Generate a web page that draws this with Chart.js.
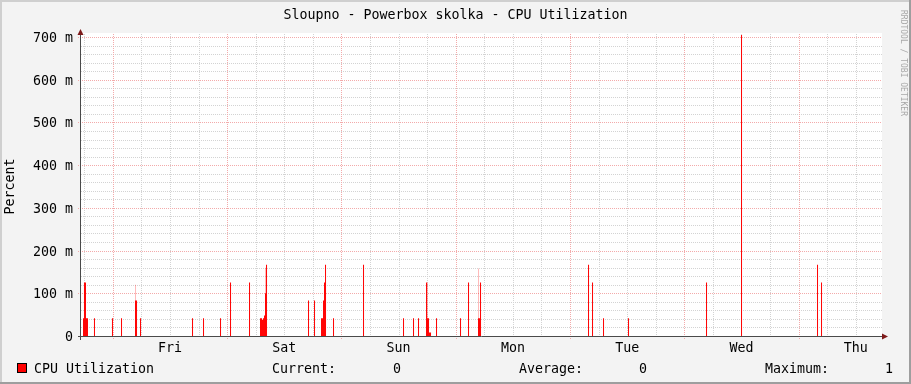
<!DOCTYPE html>
<html>
<head>
<meta charset="utf-8">
<script src="https://cdn.jsdelivr.net/npm/chart.js@4/dist/chart.umd.min.js"></script>
<style>
html,body{margin:0;padding:0;background:#f3f3f3;}
canvas{display:block;}
</style>
</head>
<body>
<canvas id="c" width="911" height="384"></canvas>
<script>
// ---- data ----
const chartTitle = 'Sloupno - Powerbox skolka - CPU Utilization';
const yAxisTitle = 'Percent';
const watermark = 'RRDTOOL / TOBI OETIKER';
const seriesName = 'CPU Utilization';
// day names, labelled at noon of each day (hours since Fri 00:00)
const dayLabels = ['Fri', 'Sat', 'Sun', 'Mon', 'Tue', 'Wed', 'Thu'];
const dayNoonHours = [12, 36, 60, 84, 108, 132, 156];
// visible time window, hours relative to Fri 00:00
const timeStart = -6.7;
const timeEnd = 161.3;
const xMinorStepHours = 6;
const xMajorStepHours = 24;
// y range (milli-units)
const yMax = 700;
const yMinorStep = 20;
const yMajorStep = 100;
// samples: time (hours since Fri 00:00) and CPU utilization (milli)
const sampleHours = [
  -6.17, -5.97, -5.76, -5.55, -5.34, -3.87, -0.09, 1.81, 4.75, 4.96, 5.80,
  16.72, 19.03, 22.60, 24.70, 28.69,
  31.00, 31.21, 31.42, 31.63, 31.84, 32.05, 32.26,
  41.08, 42.34, 43.81, 44.02, 44.23, 44.44, 44.65, 46.33, 52.63,
  61.03, 63.13, 64.18, 65.86, 66.07, 66.28, 66.49, 66.70, 67.96,
  73.00, 74.68, 76.78, 76.99, 77.20,
  99.88, 100.72, 103.03, 108.28, 124.66, 132.01, 147.97, 148.81
];
const cpuMilli = [
  41.7, 125, 125, 41.7, 41.7, 41.7, 41.7, 41.7, 83.3, 83.3, 41.7,
  41.7, 41.7, 41.7, 125, 125,
  41.7, 41.7, 38, 41.7, 48, 100, 166.7,
  83.3, 83.3, 41.7, 41.7, 83.3, 125, 166.7, 41.7, 166.7,
  41.7, 41.7, 41.7, 125, 41.7, 41.7, 8, 8, 41.7,
  41.7, 125, 41.7, 41.7, 125,
  166.7, 125, 41.7, 41.7, 125, 1000, 166.7, 125
];
// faint anti-aliased tails visible above a few spikes
const fadeHours = [4.75, 32.05, 66.07, 76.78];
const fadeMilli = [120, 160, 125, 158];
const legendStats = [
  ['Current:', '0'],
  ['Average:', '0'],
  ['Maximum:', '1']
];

// ---- styling ----
const FONT = "'DejaVu Sans Mono', monospace";
const FS = 13.3;
const MAJOR_GRID = '#f3aaaa';
const MINOR_GRID = '#d3d3d3';
const AXIS_COLOR = '#4a4a4a';
const ARROW_COLOR = '#7e1a1a';

Chart.defaults.font.family = FONT;
Chart.defaults.font.size = FS;
Chart.defaults.color = '#000';

const frame = {
  id: 'frame',
  beforeDraw(chart) {
    const {ctx, chartArea: a} = chart;
    const W = chart.width, H = chart.height;
    ctx.save();
    ctx.fillStyle = '#f3f3f3';
    ctx.fillRect(0, 0, W, H);
    ctx.fillStyle = '#cfcfcf';
    ctx.fillRect(0, 0, W, 2);
    ctx.fillRect(0, 0, 2, H);
    ctx.fillStyle = '#9e9e9e';
    ctx.fillRect(0, H - 2, W, 2);
    ctx.fillRect(W - 2, 0, 2, H);
    ctx.fillStyle = '#ffffff';
    ctx.fillRect(a.left, a.top - 4, a.right - a.left + 1, a.bottom - a.top + 4);
    ctx.restore();
  },
  beforeDatasetsDraw(chart) {
    // dotted rrdtool-style grid, positioned through the chart's scales
    const {ctx, chartArea: a, scales: {x: xs, y: ys}} = chart;
    ctx.save();
    ctx.lineWidth = 1;
    ctx.setLineDash([1, 1]);
    [false, true].forEach(major => {
      ctx.strokeStyle = major ? MAJOR_GRID : MINOR_GRID;
      ctx.beginPath();
      for (let v = yMinorStep; v <= yMax; v += yMinorStep) {
        const isMaj = v % yMajorStep === 0;
        if (isMaj !== major) continue;
        const py = Math.round(ys.getPixelForValue(v)) + 0.5;
        ctx.moveTo(major ? a.left - 3 : a.left, py);
        ctx.lineTo(a.right + 1, py);
      }
      const first = Math.ceil(timeStart / xMinorStepHours) * xMinorStepHours;
      for (let h = first; h <= timeEnd; h += xMinorStepHours) {
        const isMaj = ((h % xMajorStepHours) + xMajorStepHours) % xMajorStepHours === 0;
        if (isMaj !== major) continue;
        const px = Math.round(xs.getPixelForValue(h)) + 0.5;
        ctx.moveTo(px, a.top - 3);
        ctx.lineTo(px, major ? a.bottom + 4 : a.bottom);
      }
      ctx.stroke();
    });
    ctx.restore();
  },
  afterDraw(chart) {
    const {ctx, chartArea: a} = chart;
    const W = chart.width;
    ctx.save();
    // axes
    ctx.strokeStyle = AXIS_COLOR;
    ctx.lineWidth = 1;
    ctx.beginPath();
    ctx.moveTo(a.left - 3, a.bottom + 0.5);
    ctx.lineTo(a.right + 4, a.bottom + 0.5);
    ctx.moveTo(a.left - 0.5, a.bottom + 4);
    ctx.lineTo(a.left - 0.5, a.top - 3);
    ctx.stroke();
    // arrows
    ctx.fillStyle = ARROW_COLOR;
    ctx.beginPath();
    ctx.moveTo(a.right + 7, a.bottom + 0.5);
    ctx.lineTo(a.right + 1, a.bottom - 2.5);
    ctx.lineTo(a.right + 1, a.bottom + 3.5);
    ctx.closePath();
    ctx.fill();
    ctx.beginPath();
    ctx.moveTo(a.left - 0.5, a.top - 8);
    ctx.lineTo(a.left - 3.5, a.top - 2);
    ctx.lineTo(a.left + 2.5, a.top - 2);
    ctx.closePath();
    ctx.fill();
    // title
    ctx.fillStyle = '#000';
    ctx.font = FS + 'px ' + FONT;
    ctx.textBaseline = 'alphabetic';
    ctx.textAlign = 'center';
    ctx.fillText(chartTitle, W / 2, 18.5);
    // legend
    ctx.textAlign = 'left';
    const ly = 373;
    ctx.fillStyle = '#ff0000';
    ctx.fillRect(17, 363, 10, 10);
    ctx.strokeStyle = '#000';
    ctx.strokeRect(17.5, 363.5, 9, 9);
    ctx.fillStyle = '#000';
    ctx.fillText(seriesName, 34, ly);
    const labelX = [272, 519, 765];
    const valueX = [393, 639, 885];
    legendStats.forEach((s, i) => {
      ctx.fillText(s[0], labelX[i], ly);
      ctx.fillText(s[1], valueX[i], ly);
    });
    // watermark
    ctx.save();
    ctx.translate(903, 63);
    ctx.rotate(Math.PI / 2);
    ctx.fillStyle = '#a8a8a8';
    ctx.font = '8px ' + FONT;
    ctx.textAlign = 'center';
    ctx.textBaseline = 'middle';
    ctx.fillText(watermark, 0, 0);
    ctx.restore();
    ctx.restore();
  }
};

const points = sampleHours.map((h, i) => ({x: h, y: cpuMilli[i]}));
const fadePoints = fadeHours.map((h, i) => ({x: h, y: fadeMilli[i]}));

new Chart(document.getElementById('c'), {
  type: 'bar',
  data: {
    datasets: [{
      label: seriesName,
      data: points,
      order: 0,
      backgroundColor: '#ff0000',
      borderWidth: 0,
      barThickness: 1,
      inflateAmount: 0,
      grouped: false,
      clip: {left: 0, top: 2, right: 0, bottom: 0}
    }, {
      label: 'fade',
      data: fadePoints,
      order: 1,
      backgroundColor: 'rgba(255,0,0,0.28)',
      borderWidth: 0,
      barThickness: 1,
      inflateAmount: 0,
      grouped: false
    }]
  },
  plugins: [frame],
  options: {
    responsive: false,
    animation: false,
    devicePixelRatio: 1,
    layout: {padding: {left: 0, top: 37, right: 30, bottom: 0}},
    plugins: {legend: {display: false}, title: {display: false}, tooltip: {enabled: false}},
    scales: {
      x: {
        type: 'linear',
        min: timeStart,
        max: timeEnd,
        offset: false,
        afterFit(s) { s.height = 48; },
        afterBuildTicks(s) {
          s.ticks = dayNoonHours.map(v => ({value: v}));
        },
        ticks: {
          autoSkip: false,
          maxRotation: 0,
          padding: 5,
          font: {family: FONT, size: FS},
          color: '#000',
          callback(v) {
            const i = dayNoonHours.indexOf(v);
            return i >= 0 ? dayLabels[i] : '';
          }
        },
        grid: {display: false, drawTicks: false, offset: false},
        border: {display: false}
      },
      y: {
        type: 'linear',
        min: 0,
        max: yMax,
        afterFit(s) { s.width = 81; },
        ticks: {
          stepSize: yMajorStep,
          autoSkip: false,
          padding: 8,
          labelOffset: 1.5,
          font: {family: FONT, size: FS},
          color: '#000',
          callback(v) {
            return v === 0 ? '0' : v + ' m';
          }
        },
        grid: {display: false, drawTicks: false},
        border: {display: false},
        title: {
          display: true,
          text: yAxisTitle,
          font: {family: FONT, size: FS},
          color: '#000',
          padding: {top: 3, bottom: 0}
        }
      }
    }
  }
});
</script>
</body>
</html>
